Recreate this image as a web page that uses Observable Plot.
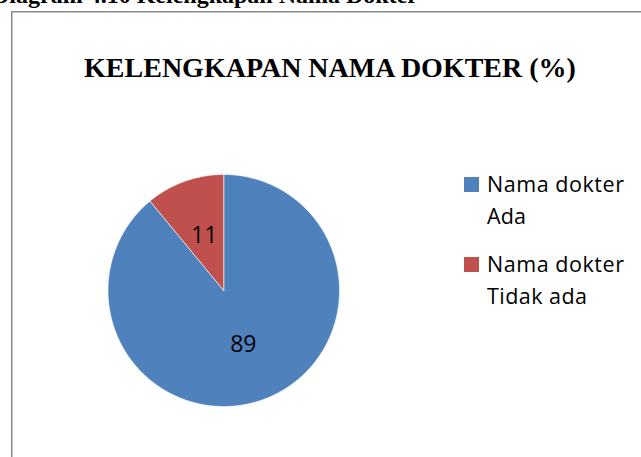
<!DOCTYPE html>
<html>
<head>
<meta charset="utf-8">
<script src="https://cdn.jsdelivr.net/npm/d3@7"></script>
<script src="https://cdn.jsdelivr.net/npm/@observablehq/plot@0.6"></script>
<style>
  html, body { margin: 0; padding: 0; background: #fff; }
  #wrap { position: relative; width: 641px; height: 457px; overflow: hidden; background: #fff; }
  #wrap > svg { position: absolute; left: 0; top: 0; }
</style>
</head>
<body>
<div id="wrap"></div>
<script>
// ---- data ----
const categories = ["Nama dokter Ada", "Nama dokter Tidak ada"];
const values = [89, 11];
const colors = ["#4F81BD", "#C0504D"];
const legendLines = [["Nama dokter", "Ada"], ["Nama dokter", "Tidak ada"]];
const chartTitle = "KELENGKAPAN NAMA DOKTER (%)";
const captionText = "Diagram 4.10 Kelengkapan Nama Dokter";

// ---- slices, angles clockwise from 12 o'clock ----
const total = d3.sum(values);
const pts = [];
const labels = [];
let start = 0;
categories.forEach((name, i) => {
  const a0 = start, a1 = start + values[i] / total * 2 * Math.PI;
  pts.push({name, x: 0, y: 0});
  const n = Math.max(2, Math.ceil((a1 - a0) / (Math.PI / 360)));
  for (let k = 0; k <= n; k++) {
    const a = a0 + (a1 - a0) * k / n;
    pts.push({name, x: Math.sin(a), y: Math.cos(a)});
  }
  pts.push({name, x: 0, y: 0});
  const m = (a0 + a1) / 2;
  labels.push({name, text: String(values[i]), x: 0.5 * Math.sin(m), y: 0.5 * Math.cos(m)});
  start = a1;
});

const wrap = document.getElementById("wrap");
const NS = "http://www.w3.org/2000/svg";

// frame + caption (cut off at the top, as in the reference)
const bg = document.createElementNS(NS, "svg");
bg.setAttribute("width", 641); bg.setAttribute("height", 457);
bg.innerHTML = `
  <text x="-8" y="2.5" font-family="Liberation Serif, Times New Roman, serif" font-weight="bold" font-size="24" fill="#000">${captionText}</text>
  <rect x="11.75" y="11.75" width="700" height="500" fill="none" stroke="#8a8a8a" stroke-width="1.5"/>`;
wrap.appendChild(bg);

const chart = Plot.plot({
  width: 641, height: 457,
  marginLeft: 107.5, marginRight: 302, marginTop: 174, marginBottom: 51,
  style: {background: "transparent", fontFamily: "Open Sans, sans-serif"},
  x: {domain: [-1, 1], axis: null},
  y: {domain: [-1, 1], axis: null},
  color: {domain: categories, range: colors},
  marks: [
    Plot.line(pts, {x: "x", y: "y", z: "name", fill: "name", stroke: "#ffffff", strokeOpacity: 0.6, strokeWidth: 1, curve: "linear"}),
    Plot.text(labels, {x: "x", y: "y", text: "text", fontSize: 23, fill: "#000", fontFamily: "Open Sans, sans-serif"})
  ]
});
wrap.appendChild(chart);

// title + legend
const fg = document.createElementNS(NS, "svg");
fg.setAttribute("width", 641); fg.setAttribute("height", 457);
let html = `<text x="330" y="77" text-anchor="middle" font-family="Liberation Serif, Times New Roman, serif" font-weight="bold" font-size="28" fill="#000">${chartTitle}</text>`;
const legendTop = [177, 257];
const lineWidths = [[137, 39], [137, 100]];
legendLines.forEach((lines, i) => {
  const y0 = legendTop[i];
  html += `<rect x="464" y="${y0}" width="15" height="15" fill="${colors[i]}"/>`;
  lines.forEach((t, j) => {
    html += `<text x="487" y="${y0 + 15 + j * 32}" textLength="${lineWidths[i][j]}" lengthAdjust="spacing" font-family="Open Sans, sans-serif" font-size="21.5" fill="#000">${t}</text>`;
  });
});
fg.innerHTML = html;
wrap.appendChild(fg);
</script>
</body>
</html>
